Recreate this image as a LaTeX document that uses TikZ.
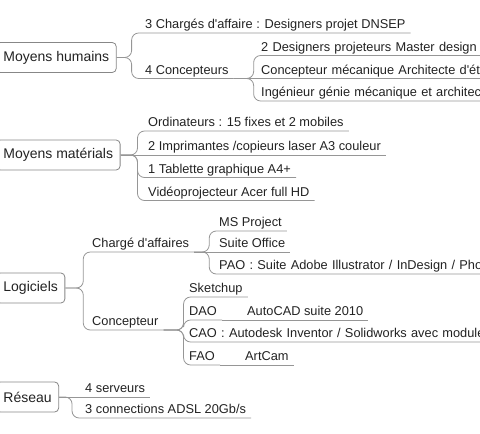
\documentclass[tikz,border=0pt]{standalone}
\usepackage{fontspec}
\setmainfont{Liberation Sans}
\definecolor{ink}{RGB}{34,34,34}
\definecolor{linegray}{RGB}{150,150,150}
\definecolor{boxgray}{RGB}{135,135,135}
\tikzset{
  topic/.style={draw=boxgray, line width=0.8pt, rounded corners=4pt, anchor=west,
    minimum height=30pt, inner xsep=7pt, text=ink, font=\fontsize{14}{16}\selectfont},
  leaf/.style={anchor=south west, inner xsep=5pt, inner ysep=1pt, text depth=3.2pt,
    text=ink, font=\fontsize{12.8}{15}\selectfont},
  runoff/.style={text width=320pt},
  branch/.style={draw=linegray, line width=0.8pt, rounded corners=7pt}
}
\begin{document}
\begin{tikzpicture}[x=1pt, y=-1pt]
  \useasboundingbox (0,0) rectangle (480,434);
  % Moyens humains
  \node[topic] (MH) at (-4,57.5) {Moyens humains};
  \node[leaf] (MHa) at (140,33) {3 Chargés d\textquotesingle affaire : Designers projet DNSEP};
  \node[leaf] (MHb) at (140,78.5) {4 Concepteurs};
  \node[leaf,runoff] (MHb1) at (256,55.5) {2 Designers projeteurs Master design i};
  \node[leaf,runoff] (MHb2) at (256,78.5) {Concepteur mécanique Architecte d\textquotesingle éta};
  \node[leaf,runoff] (MHb3) at (256,101) {Ingénieur génie mécanique et architect};
  \draw[branch] (MH.east) -- ++(15,0) |- (MHa.south east);
  \draw[branch] (MH.east) -- ++(15,0) |- (MHb.south east);
  \draw[branch] (MHb.south east) -- ++(20,0) |- (MHb1.south east);
  \draw[branch] (MHb.south east) -- (MHb2.south east);
  \draw[branch] (MHb.south east) -- ++(20,0) |- (MHb3.south east);

  % Moyens materials
  \node[topic] (MM) at (-4,155) {Moyens matérials};
  \node[leaf] (MMa) at (143,131) {Ordinateurs : 15 fixes et 2 mobiles};
  \node[leaf] (MMb) at (143,155) {2 Imprimantes /copieurs laser A3 couleur};
  \node[leaf] (MMc) at (143,177.5) {1 Tablette graphique A4+};
  \node[leaf] (MMd) at (143,200.5) {Vidéoprojecteur Acer full HD};
  \draw[branch] (MM.east) -- ++(17,0) |- (MMa.south east);
  \draw[branch] (MM.east) -- (MMb.south east);
  \draw[branch] (MM.east) -- ++(17,0) |- (MMc.south east);
  \draw[branch] (MM.east) -- ++(17,0) |- (MMd.south east);

  % Logiciels
  \node[topic] (LO) at (-4,288) {Logiciels};
  \node[leaf] (LOa) at (87,252) {Chargé d\textquotesingle affaires};
  \node[leaf] (LOb) at (87,330) {Concepteur};
  \node[leaf] (LOa1) at (214,231) {MS Project};
  \node[leaf] (LOa2) at (214,252) {Suite Office};
  \node[leaf,runoff] (LOa3) at (214,274) {PAO : Suite Adobe Illustrator / InDesign / Phot};
  \node[leaf] (LOb1) at (184,297) {Sketchup};
  \node[leaf] (LOb2) at (184,320) {DAO};
  \node[leaf,runoff] (LOb3) at (184,342) {CAO : Autodesk Inventor / Solidworks avec module};
  \node[leaf] (LOb4) at (184,365) {FAO};
  \node[leaf] (LOb2a) at (242,320) {AutoCAD suite 2010};
  \node[leaf] (LOb4a) at (240,365) {ArtCam};
  \draw[branch] (LO.east) -- ++(18,0) |- (LOa.south east);
  \draw[branch] (LO.east) -- ++(18,0) |- (LOb.south east);
  \draw[branch] (LOa.south east) -- ++(15,0) |- (LOa1.south east);
  \draw[branch] (LOa.south east) -- (LOa2.south east);
  \draw[branch] (LOa.south east) -- ++(15,0) |- (LOa3.south east);
  \draw[branch] (LOb.south east) -- ++(20,0) |- (LOb1.south east);
  \draw[branch] (LOb.south east) -- ++(20,0) |- (LOb2.south east);
  \draw[branch] (LOb.south east) -- ++(20,0) |- (LOb3.south east);
  \draw[branch] (LOb.south east) -- ++(20,0) |- (LOb4.south east);
  \draw[branch] (LOb2.south east) -- (LOb2a.south east);
  \draw[branch] (LOb4.south east) -- (LOb4a.south east);

  % Reseau
  \node[topic] (RE) at (-4,397) {Réseau};
  \node[leaf] (REa) at (80,397) {4 serveurs};
  \node[leaf] (REb) at (80,418) {3 connections ADSL 20Gb/s};
  \draw[branch] (RE.east) -- (REa.south east);
  \draw[branch] (RE.east) -- ++(13,0) |- (REb.south east);
\end{tikzpicture}
\end{document}
